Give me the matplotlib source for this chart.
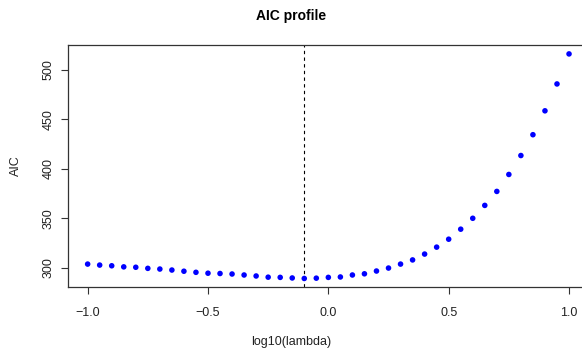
import numpy as np
import matplotlib
matplotlib.use('Agg')
import matplotlib.pyplot as plt

plt.rcParams['font.family'] = ['Liberation Sans', 'DejaVu Sans']

log_lambda = np.round(np.arange(-1.0, 1.0001, 0.05), 2)
aic = [304.0, 303.0, 302.3, 301.2, 300.8, 299.7, 299.0, 298.0, 296.8, 295.7,
       294.8, 294.5, 294.0, 293.0, 292.0, 290.8, 290.6, 290.0, 289.5, 289.8,
       290.6, 291.0, 293.0, 294.2, 297.0, 300.0, 304.0, 308.2, 314.1, 321.1,
       329.1, 339.2, 350.2, 363.2, 377.3, 394.4, 413.5, 434.5, 458.6, 485.7,
       516.0]
best = -0.1

fig = plt.figure(figsize=(5.82, 3.53), dpi=100)
ax = fig.add_axes([0.1175, 0.1856, 0.8933, 0.6878])

ax.scatter(log_lambda, aic, s=16, color='blue', edgecolors='none', zorder=3)
ax.axvline(best, color='black', linestyle=(0, (3, 3)), linewidth=0.8)

ax.set_xlim(-1.08, 1.08)
ax.set_ylim(280.4, 525.3)
ax.set_xticks([-1.0, -0.5, 0.0, 0.5, 1.0])
ax.set_xticklabels(['\u22121.0', '\u22120.5', '0.0', '0.5', '1.0'])
ax.set_yticks([300, 350, 400, 450, 500])
for lab in ax.get_yticklabels():
    lab.set_rotation(90)
    lab.set_va('center')
ax.tick_params(axis='both', length=5, width=0.8, labelsize=9, color='#333333',
               labelcolor='#222222')
ax.tick_params(axis='x', pad=9)
ax.tick_params(axis='y', pad=5)
for sp in ax.spines.values():
    sp.set_linewidth(0.9)
    sp.set_color('#333333')

fig.text(0.5, 0.955, 'AIC profile', ha='center', va='center', fontsize=10, fontweight='bold')
fig.text(0.5, 0.030, 'log10(lambda)', ha='center', va='center', fontsize=9, color='#222222')
fig.text(0.028, 0.53, 'AIC', ha='center', va='center', fontsize=9, rotation=90, color='#222222')

fig.savefig('out.png', dpi=100)
